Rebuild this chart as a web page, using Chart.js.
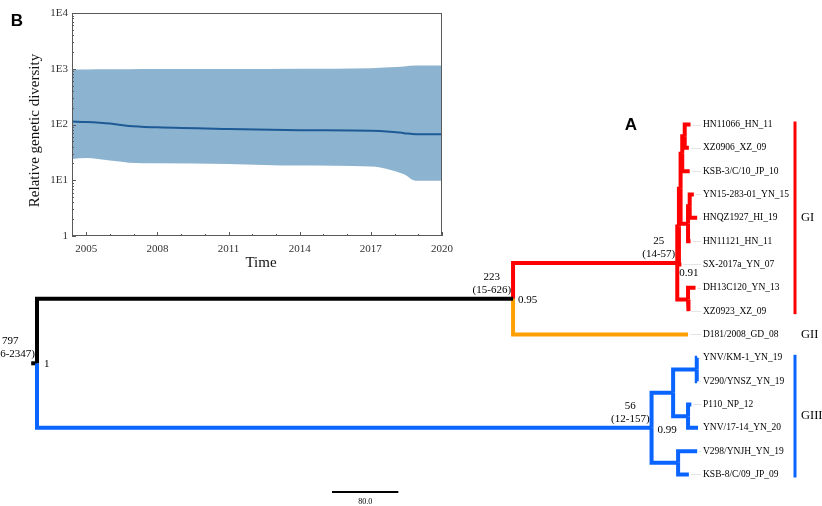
<!DOCTYPE html>
<html><head><meta charset="utf-8">
<script src="https://cdn.jsdelivr.net/npm/chart.js@4.4.1/dist/chart.umd.min.js"></script>
<style>
html,body{margin:0;padding:0;background:#fff;}
#wrap{position:relative;width:822px;height:506px;overflow:hidden;background:#fff;}
#tree{position:absolute;left:0;top:0;}
#inset{position:absolute;left:0;top:0;}
</style></head>
<body><div id="wrap"><canvas id="tree" width="822" height="506"></canvas><canvas id="inset" width="460" height="275"></canvas></div>
<script>
// ---------- Panel B: Bayesian skyline ----------
const skyYears  = [2004.4, 2005, 2006, 2006.8, 2008, 2011, 2014, 2017, 2017.8, 2018.4, 2018.9, 2020];
const skyMedian = [113, 111, 104, 94, 89, 83, 79, 77, 74, 70, 67, 67];
const skyUpper  = [955, 965, 975, 980, 985, 990, 1000, 1020, 1060, 1100, 1140, 1140];
const skyLower  = [24, 25, 22.5, 20.7, 20.2, 19.6, 18.3, 17.6, 15.5, 12.8, 9.8, 9.8];
const skyXTicks = [2005, 2008, 2011, 2014, 2017, 2020];
const skyYTicks = [1, 10, 100, 1000, 10000];
const skyYTickLabels = ['1', '1E1', '1E2', '1E3', '1E4'];

// ---------- Panel A: MCC tree ----------
const tipNames = ['HN11066_HN_11','XZ0906_XZ_09','KSB-3/C/10_JP_10','YN15-283-01_YN_15','HNQZ1927_HI_19','HN11121_HN_11','SX-2017a_YN_07','DH13C120_YN_13','XZ0923_XZ_09','D181/2008_GD_08','YNV/KM-1_YN_19','V290/YNSZ_YN_19','P110_NP_12','YNV/17-14_YN_20','V298/YNJH_YN_19','KSB-8/C/09_JP_09'];
const tipDates = [2011, 2009, 2010, 2015, 2019, 2011, 2000, 2017, 2009, 2008, 2019, 2019, 2012, 2020, 2019, 2009];
const nodeNames    = ['root','N223','GI','GIa','GIb','GIc','GId','GIe','GIg','GIf','GIII','GIIIa','GIIIc','GIIId','GIIIb'];
const nodeHeights  = [797, 223, 25, 23, 21, 19, 16, 12, 10, 12, 56, 30, 1.5, 12, 24];
const nodeChildren = [
  ['N223','GIII'],
  ['GI','D181/2008_GD_08'],
  ['GIa','GIf'],
  ['GIb','SX-2017a_YN_07'],
  ['GIc','GIe'],
  ['GId','KSB-3/C/10_JP_10'],
  ['HN11066_HN_11','XZ0906_XZ_09'],
  ['GIg','HN11121_HN_11'],
  ['YN15-283-01_YN_15','HNQZ1927_HI_19'],
  ['DH13C120_YN_13','XZ0923_XZ_09'],
  ['GIIIa','GIIIb'],
  ['GIIIc','GIIId'],
  ['YNV/KM-1_YN_19','V290/YNSZ_YN_19'],
  ['P110_NP_12','YNV/17-14_YN_20'],
  ['V298/YNJH_YN_19','KSB-8/C/09_JP_09']
];
const labeledNodes = ['root','N223','GI','GIII'];
const labeledAges  = [797, 223, 25, 56];
const hpdLow       = [276, 15, 14, 12];
const hpdHigh      = [2347, 626, 57, 157];
const posteriors   = ['1', '0.95', '0.91', '0.99'];
const cladeNames    = ['GI', 'GII', 'GIII'];
const cladeFirstTip = [0, 9, 10];
const cladeLastTip  = [8, 9, 15];
const presentYear = 2020;
const scaleBarYears = 80;

// ---------- tree layout (from data) ----------
const pos = {};
tipNames.forEach((n, i) => { pos[n] = {x: tipDates[i], y: i}; });
function layout(name) {
  if (pos[name]) return pos[name];
  const k = nodeNames.indexOf(name);
  const ch = nodeChildren[k].map(layout);
  pos[name] = {x: presentYear - nodeHeights[k], y: (ch[0].y + ch[ch.length - 1].y) / 2};
  return pos[name];
}
layout('root');
function subtree(name, set) {
  set.add(name);
  const k = nodeNames.indexOf(name);
  if (k >= 0) nodeChildren[k].forEach(c => subtree(c, set));
  return set;
}
const giSet = subtree('GI', new Set());
const giiiSet = subtree('GIII', new Set());
function colorOf(child) {
  if (giSet.has(child)) return '#ff0000';
  if (giiiSet.has(child)) return '#0a64ff';
  if (child === 'D181/2008_GD_08') return '#ffa000';
  return '#000000';
}
const branchSets = [];
nodeNames.forEach((p, k) => {
  nodeChildren[k].forEach(c => {
    const P = pos[p], C = pos[c];
    branchSets.push({
      data: [{x: P.x, y: P.y}, {x: P.x, y: C.y}, {x: C.x, y: C.y}],
      borderColor: colorOf(c)
    });
  });
});
// root stub
branchSets.push({data: [{x: pos.root.x - 7, y: pos.root.y}, {x: pos.root.x, y: pos.root.y}], borderColor: '#000'});

const treeDatasets = branchSets.map(b => ({
  data: b.data, borderColor: b.borderColor, borderWidth: 4, showLine: true,
  pointRadius: 0, pointHoverRadius: 0, borderJoinStyle: 'miter', borderCapStyle: 'butt', tension: 0, fill: false
}));

const SERIF = '"Liberation Serif", "Times New Roman", serif';
const SANS = '"Liberation Sans", Arial, sans-serif';

const treeDecor = {
  id: 'treeDecor',
  beforeDatasetsDraw(chart) {
    const {ctx, scales: {x, y}} = chart;
    const labelX = x.getPixelForValue(presentYear) + 5;
    ctx.save();
    ctx.strokeStyle = '#e4e4e4'; ctx.lineWidth = 1;
    tipNames.forEach((n, i) => {
      const py = Math.round(y.getPixelForValue(i)) + 0.5;
      ctx.beginPath(); ctx.moveTo(x.getPixelForValue(tipDates[i]) + 2, py); ctx.lineTo(labelX - 2, py); ctx.stroke();
    });
    ctx.restore();
  },
  afterDatasetsDraw(chart) {
    const {ctx, scales: {x, y}} = chart;
    const labelX = x.getPixelForValue(presentYear) + 5;
    ctx.save();
    // tip labels
    ctx.fillStyle = '#000'; ctx.font = '9.5px ' + SERIF; ctx.textAlign = 'left'; ctx.textBaseline = 'middle';
    tipNames.forEach((n, i) => ctx.fillText(n, labelX, y.getPixelForValue(i)));
    // clade bars and labels
    const barX = labelX + 92;
    cladeNames.forEach((c, j) => {
      const y0 = y.getPixelForValue(cladeFirstTip[j]), y1 = y.getPixelForValue(cladeLastTip[j]);
      if (cladeLastTip[j] > cladeFirstTip[j]) {
        ctx.strokeStyle = colorOf(tipNames[cladeFirstTip[j]]); ctx.lineWidth = 3;
        ctx.beginPath(); ctx.moveTo(barX, y0 - 3); ctx.lineTo(barX, y1 + 3); ctx.stroke();
      }
      ctx.fillStyle = '#000'; ctx.font = '12.5px ' + SERIF; ctx.textAlign = 'left';
      ctx.fillText(c, barX + 6, (y0 + y1) / 2);
    });
    // node labels
    const postDx = [7, 5, 2, 6], postDy = [1, 1, 10, 2];
    labeledNodes.forEach((n, j) => {
      const px = x.getPixelForValue(pos[n].x), py = y.getPixelForValue(pos[n].y);
      ctx.font = '11px ' + SERIF; ctx.fillStyle = '#000'; ctx.textBaseline = 'middle';
      const l1 = String(labeledAges[j]), l2 = '(' + hpdLow[j] + '-' + hpdHigh[j] + ')';
      const w = Math.max(ctx.measureText(l1).width, ctx.measureText(l2).width);
      const cx = px - w / 2 - 2;
      ctx.textAlign = 'center';
      ctx.fillText(l1, cx, py - 22);
      ctx.fillText(l2, cx, py - 9);
      ctx.textAlign = 'left';
      ctx.fillText(posteriors[j], px + postDx[j], py + postDy[j]);
    });
    // scale bar
    const sbLeft = 332;
    const sbLen = x.getPixelForValue(x.min + scaleBarYears) - x.getPixelForValue(x.min);
    ctx.strokeStyle = '#000'; ctx.lineWidth = 2;
    ctx.beginPath(); ctx.moveTo(sbLeft, 492); ctx.lineTo(sbLeft + sbLen, 492); ctx.stroke();
    ctx.font = '8px ' + SERIF; ctx.textAlign = 'center'; ctx.fillStyle = '#000';
    ctx.fillText(scaleBarYears.toFixed(1), sbLeft + sbLen / 2, 502);
    // panel letter
    ctx.font = 'bold 17px ' + SANS; ctx.textAlign = 'center';
    ctx.fillText('A', 631, 125);
    ctx.restore();
  }
};

const k = 661 / 797;
const xMin = presentYear - 698 / k;
const xMax = xMin + 822 / k;
const rowH = 23.333;
new Chart(document.getElementById('tree'), {
  type: 'scatter',
  data: {datasets: treeDatasets},
  options: {
    responsive: false, animation: false, devicePixelRatio: 1,
    layout: {padding: 0},
    plugins: {legend: {display: false}, tooltip: {enabled: false}},
    events: [],
    scales: {
      x: {type: 'linear', display: false, min: xMin, max: xMax},
      y: {type: 'linear', display: false, reverse: true, min: -124.5 / rowH, max: (506 - 124.5) / rowH}
    }
  },
  plugins: [treeDecor]
});

// ---------- inset chart ----------
const insetDecor = {
  id: 'insetDecor',
  afterDraw(chart) {
    const {ctx, chartArea: a, scales: {x, y}} = chart;
    ctx.save();
    ctx.strokeStyle = '#5a5a5a'; ctx.lineWidth = 1;
    ctx.strokeRect(a.left + 0.5, a.top + 0.5, a.right - a.left - 1, a.bottom - a.top - 1);
    ctx.beginPath();
    for (let yr = Math.ceil(x.min); yr <= x.max; yr++) {
      const px = Math.round(x.getPixelForValue(yr)) + 0.5;
      const len = skyXTicks.includes(yr) ? 4 : 2;
      ctx.moveTo(px, a.bottom); ctx.lineTo(px, a.bottom - len);
    }
    for (let d = 1; d < 10000; d *= 10) {
      for (let m = 1; m <= 9; m++) {
        const py = Math.round(y.getPixelForValue(d * m)) + 0.5;
        const len = m === 1 ? 4 : 2;
        ctx.moveTo(a.left, py); ctx.lineTo(a.left + len, py);
      }
    }
    ctx.stroke();
    ctx.fillStyle = '#111';
    ctx.font = '15px ' + SERIF; ctx.textAlign = 'center'; ctx.textBaseline = 'middle';
    ctx.fillText('Time', (a.left + a.right) / 2 + 4, 263);
    ctx.translate(35, (a.top + a.bottom) / 2 + 6);
    ctx.rotate(-Math.PI / 2);
    ctx.fillText('Relative genetic diversity', 0, 0);
    ctx.restore();
    ctx.save();
    ctx.fillStyle = '#000'; ctx.font = 'bold 17px ' + SANS; ctx.textAlign = 'center'; ctx.textBaseline = 'middle';
    ctx.fillText('B', 17, 21);
    ctx.restore();
  }
};

new Chart(document.getElementById('inset'), {
  type: 'line',
  data: {datasets: [
    {data: skyYears.map((v, i) => ({x: v, y: skyMedian[i]})), borderColor: '#1d5a96', borderWidth: 2, pointRadius: 0, fill: false, cubicInterpolationMode: 'monotone', order: 0},
    {data: skyYears.map((v, i) => ({x: v, y: skyUpper[i]})), borderColor: 'rgba(0,0,0,0)', borderWidth: 0, pointRadius: 0, fill: '+1', backgroundColor: '#8cb3cf', cubicInterpolationMode: 'monotone', order: 1},
    {data: skyYears.map((v, i) => ({x: v, y: skyLower[i]})), borderColor: 'rgba(0,0,0,0)', borderWidth: 0, pointRadius: 0, fill: false, cubicInterpolationMode: 'monotone', order: 2}
  ]},
  options: {
    responsive: false, animation: false, devicePixelRatio: 1,
    layout: {padding: {left: 0, top: 13, right: 14, bottom: 0}},
    plugins: {legend: {display: false}, tooltip: {enabled: false}},
    events: [],
    scales: {
      x: {
        type: 'linear', min: 2004.4, max: 2020,
        afterBuildTicks: s => { s.ticks = skyXTicks.map(v => ({value: v})); },
        afterFit: s => { s.height = 39; },
        grid: {display: false, drawTicks: false}, border: {display: false},
        ticks: {font: {family: SERIF, size: 11}, color: '#333', padding: 7, maxRotation: 0, autoSkip: false, callback: v => String(v)}
      },
      y: {
        type: 'logarithmic', min: 1, max: 10000,
        afterBuildTicks: s => { s.ticks = skyYTicks.map(v => ({value: v})); },
        afterFit: s => { s.width = 72; },
        grid: {display: false, drawTicks: false}, border: {display: false},
        ticks: {font: {family: SERIF, size: 11}, color: '#333', padding: 4, autoSkip: false,
          callback: v => skyYTickLabels[skyYTicks.indexOf(v)]}
      }
    }
  },
  plugins: [insetDecor]
});
</script>
</body></html>
